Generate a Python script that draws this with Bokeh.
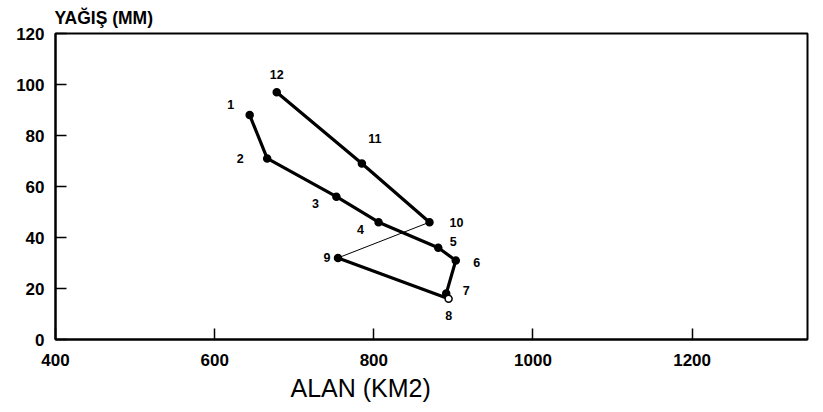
from bokeh.plotting import figure
from bokeh.models import FixedTicker, Title, ColumnDataSource, Range1d
from bokeh.core.properties import value
from bokeh.embed import file_html
from bokeh.resources import INLINE

# ---- data ----
months = ["1", "2", "3", "4", "5", "6", "7", "8", "9", "10", "11", "12"]
area_km2 = [644, 666, 753, 806, 881, 903, 891, 894, 755, 870, 785, 678]
rain_mm = [88, 71, 56, 46, 36, 31, 18, 16, 32, 46, 69, 97]
x_ticks = [400, 600, 800, 1000, 1200]
y_ticks = [0, 20, 40, 60, 80, 100, 120]
x_title = "ALAN (KM2)"
y_title = "YAĞIŞ (MM)"

# ---- styling (label offsets in pixels) ----
dx = [-19, -27, -21, -18, 15, 21, 20, 0, -11, 27, 13, 0]
dy = [-11, 0, 7, 7, -6, 2, -3, 17, 0, 0, -25, -18]

FONT = "Liberation Sans"

p = figure(width=815, height=404, output_backend="svg", toolbar_location=None,
           x_range=Range1d(400, 1345), y_range=Range1d(0, 120),
           min_border_left=55, min_border_right=8, min_border_top=8, min_border_bottom=10)
p.grid.visible = False
p.outline_line_color = "black"
p.outline_line_width = 2
p.background_fill_color = "white"
p.border_fill_color = "white"

for ax, ticks in ((p.xaxis[0], x_ticks), (p.yaxis[0], y_ticks)):
    ax.ticker = FixedTicker(ticks=ticks)
    ax.minor_tick_line_color = None
    ax.major_tick_in = 11
    ax.major_tick_out = 0
    ax.major_tick_line_width = 1.5
    ax.major_tick_line_color = "black"
    ax.axis_line_width = 2
    ax.axis_line_color = "black"
    ax.major_label_text_font = FONT
    ax.major_label_text_font_size = "17px"
    ax.major_label_text_font_style = "bold"
    ax.major_label_text_color = "black"
p.xaxis[0].major_label_standoff = 14
p.yaxis[0].major_label_standoff = 11

# titles
p.title = Title(text=y_title, align="left", offset=-1, standoff=11,
                text_font=FONT, text_font_size="17.5px", text_font_style="bold",
                text_color="black")
p.add_layout(Title(text=x_title, align="left", offset=235, standoff=6,
                   text_font=FONT, text_font_size="25px", text_font_style="normal",
                   text_color="black"), "below")

src = ColumnDataSource(dict(x=area_km2, y=rain_mm, m=months, dx=dx, dy=dy))

# thick path: months 1..9, thin link 9->10, thick path 10..12
p.line(area_km2[:9], rain_mm[:9], line_color="black", line_width=3.2)
p.line(area_km2[8:10], rain_mm[8:10], line_color="black", line_width=1)
p.line(area_km2[9:], rain_mm[9:], line_color="black", line_width=3.2)

fills = ["black"] * len(months)
fills[7] = "white"
src.data["fill"] = fills
p.scatter("x", "y", source=src, size=7, fill_color="fill", line_color="black", line_width=1.5)

p.text("x", "y", text="m", source=src, x_offset="dx", y_offset="dy",
       text_align="center", text_baseline="middle",
       text_font=value(FONT), text_font_size="12.5px", text_font_style="bold",
       text_color="black")

open("out.html", "w").write(file_html(p, INLINE))
